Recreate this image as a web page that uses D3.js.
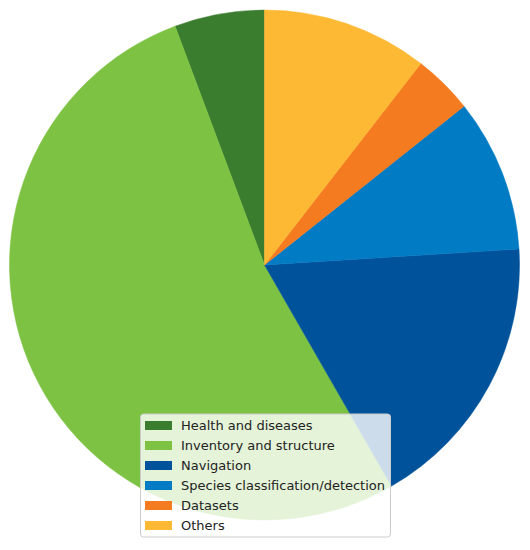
<!DOCTYPE html>
<html>
<head>
<meta charset="utf-8">
<script src="https://cdn.jsdelivr.net/npm/d3@7"></script>
<style>
  body { margin: 0; background: #fff; }
  svg { display: block; }
</style>
</head>
<body>
<div id="chart"></div>
<script>
var width = 530;
var height = 550;

// shares (percent)
var categories = ["Health and diseases", "Inventory and structure", "Navigation",
                  "Species classification/detection", "Datasets", "Others"];
var shares = [5.7, 52.6, 17.7, 9.7, 3.8, 10.5];
var colors = ["#3a7d2e", "#7dc242", "#00529b", "#007bc4", "#f47b20", "#fdb933"];

var cx = 264.5, cy = 265, radius = 255;

var svg = d3.select("#chart").append("svg")
  .attr("width", width)
  .attr("height", height);

// matplotlib style: start at top, counter-clockwise
var pie = d3.pie()
  .sort(null)
  .startAngle(0)
  .endAngle(-2 * Math.PI);

var arc = d3.arc().innerRadius(0).outerRadius(radius);

var color = d3.scaleOrdinal().domain(categories).range(colors);

var g = svg.append("g").attr("transform", "translate(" + cx + "," + cy + ")");

g.selectAll("path")
  .data(pie(shares))
  .enter().append("path")
  .attr("d", arc)
  .attr("fill", function(d, i) { return color(categories[i]); })
  .attr("stroke", function(d, i) { return color(categories[i]); })
  .attr("stroke-width", 0.5);

// legend
var lx = 140.5, ly = 414, lw = 250, lh = 123;
var legend = svg.append("g");
legend.append("rect")
  .attr("x", lx).attr("y", ly)
  .attr("width", lw).attr("height", lh)
  .attr("rx", 3)
  .attr("fill", "#fff")
  .attr("fill-opacity", 0.8)
  .attr("stroke", "#cccccc")
  .attr("stroke-width", 1);

var rows = legend.selectAll("g.row")
  .data(categories)
  .enter().append("g")
  .attr("class", "row")
  .attr("transform", function(d, i) { return "translate(" + (lx + 4.5) + "," + (ly + 11 + i * 20) + ")"; });

rows.append("rect")
  .attr("x", 0).attr("y", -4)
  .attr("width", 27).attr("height", 9)
  .attr("fill", function(d) { return color(d); });

rows.append("text")
  .attr("x", 36)
  .attr("y", 0)
  .attr("dy", "0.35em")
  .attr("font-family", "DejaVu Sans")
  .attr("font-size", 13)
  .attr("fill", "#222")
  .text(function(d) { return d; });
</script>
</body>
</html>
